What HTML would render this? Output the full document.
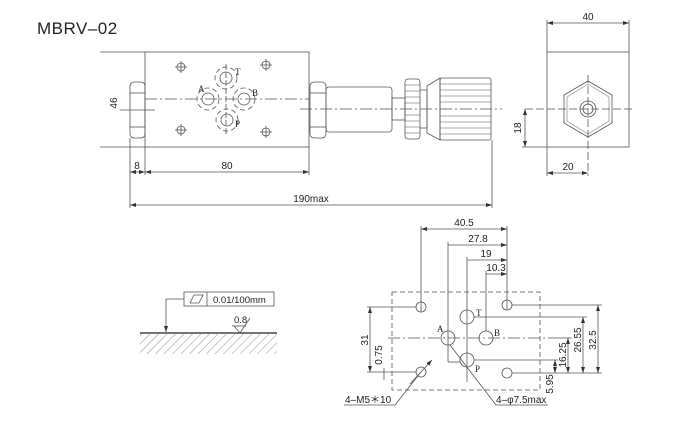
<!DOCTYPE html>
<html><head><meta charset="utf-8"><style>
html,body{margin:0;padding:0;background:#fff;}
svg{display:block;}
text{font-family:"Liberation Sans",sans-serif;fill:#222;}
</style></head><body>
<svg width="680" height="426" viewBox="0 0 680 426" xmlns="http://www.w3.org/2000/svg">
<defs>
<marker id="ar" markerWidth="6" markerHeight="4" refX="6" refY="2" orient="auto-start-reverse" markerUnits="userSpaceOnUse"><path d="M0,0 L6,2 L0,4z" fill="#333"/></marker>
<pattern id="hatch" width="6" height="6" patternUnits="userSpaceOnUse" patternTransform="rotate(45)"><line x1="0" y1="0" x2="0" y2="6" stroke="#666" stroke-width="0.7"/></pattern>
</defs>
<text x="37" y="34" font-size="17" letter-spacing="0.5">MBRV–02</text>
<g stroke="#555" stroke-width="0.8" fill="none">
<rect x="145" y="52" width="164" height="95"/>
<rect x="130" y="82" width="15" height="56" rx="4"/>
<line x1="130" y1="93" x2="145" y2="93"/><line x1="130" y1="127" x2="145" y2="127"/>
<line x1="120" y1="110" x2="155" y2="110"/>
<rect x="310" y="82" width="16" height="56" rx="4"/>
<line x1="310" y1="93" x2="326" y2="93"/><line x1="310" y1="127" x2="326" y2="127"/>
<rect x="326" y="87" width="66" height="45" rx="3"/>
<rect x="392" y="98" width="13" height="22"/>
<rect x="405" y="79" width="15" height="60" rx="3"/>
<g stroke-width="0.5"><line x1="405" y1="85" x2="420" y2="85"/><line x1="405" y1="91" x2="420" y2="91"/><line x1="405" y1="97" x2="420" y2="97"/><line x1="405" y1="103" x2="420" y2="103"/><line x1="405" y1="115" x2="420" y2="115"/><line x1="405" y1="121" x2="420" y2="121"/><line x1="405" y1="127" x2="420" y2="127"/><line x1="405" y1="133" x2="420" y2="133"/></g>
<path d="M420,90 L427,90 L427,128 L420,128"/>
<path d="M427,86 L440,78 L440,140 L427,133z"/>
<rect x="440" y="78" width="51" height="62" rx="2"/>
<g stroke-width="0.5"><line x1="440" y1="84" x2="491" y2="84"/><line x1="440" y1="90" x2="491" y2="90"/><line x1="440" y1="96" x2="491" y2="96"/><line x1="440" y1="102" x2="491" y2="102"/><line x1="440" y1="116" x2="491" y2="116"/><line x1="440" y1="122" x2="491" y2="122"/><line x1="440" y1="128" x2="491" y2="128"/><line x1="440" y1="134" x2="491" y2="134"/></g>
<line x1="300" y1="109" x2="502" y2="109" stroke-dasharray="12,3,2,3"/>
<line x1="145" y1="99" x2="309" y2="99" stroke-dasharray="12,3,2,3"/>
<g>
<circle cx="226" cy="78" r="6"/><circle cx="226" cy="78" r="11" stroke-dasharray="5,3"/>
<circle cx="208" cy="99" r="6"/><circle cx="208" cy="99" r="11" stroke-dasharray="5,3"/>
<circle cx="244" cy="99" r="6"/><circle cx="244" cy="99" r="11" stroke-dasharray="5,3"/>
<circle cx="227" cy="120" r="6"/><circle cx="227" cy="120" r="11" stroke-dasharray="5,3"/>
<line x1="226" y1="64" x2="226" y2="134" stroke-dasharray="6,2"/>
</g>
<g>
<circle cx="181" cy="67" r="4"/><path d="M175,67h12M181,61v12"/>
<circle cx="266" cy="65" r="4"/><path d="M260,65h12M266,59v12"/>
<circle cx="181" cy="130" r="4"/><path d="M175,130h12M181,124v12"/>
<circle cx="266" cy="132" r="4"/><path d="M260,132h12M266,126v12"/>
</g>
<line x1="100" y1="52" x2="145" y2="52"/><line x1="100" y1="147" x2="145" y2="147"/>
<line x1="130" y1="138" x2="130" y2="208"/><line x1="145" y1="147" x2="145" y2="175"/><line x1="309" y1="147" x2="309" y2="175"/>
<line x1="492" y1="140" x2="492" y2="208"/>
<line x1="130" y1="172" x2="145" y2="172" marker-start="url(#ar)" marker-end="url(#ar)"/>
<line x1="145" y1="172" x2="309" y2="172" marker-start="url(#ar)" marker-end="url(#ar)"/>
<line x1="130" y1="205" x2="492" y2="205" marker-start="url(#ar)" marker-end="url(#ar)"/>
<rect x="547" y="52" width="82" height="95"/>
<line x1="547" y1="20" x2="547" y2="52"/><line x1="629" y1="20" x2="629" y2="52"/>
<line x1="547" y1="23" x2="629" y2="23" marker-start="url(#ar)" marker-end="url(#ar)"/>
<polygon points="588,81 612,95 612,123 588,137 564,123 564,95"/>
<polygon points="588,84 609,97 609,121 588,134 567,121 567,97" stroke-width="0.5"/>
<circle cx="588" cy="109" r="8"/><circle cx="588" cy="109" r="5"/>
<line x1="525" y1="109" x2="633" y2="109" stroke-dasharray="8,3"/>
<line x1="588" y1="75" x2="588" y2="176" stroke-dasharray="8,3"/>
<line x1="522" y1="147" x2="547" y2="147"/>
<line x1="525" y1="109" x2="525" y2="147" marker-start="url(#ar)" marker-end="url(#ar)"/>
<line x1="547" y1="147" x2="547" y2="176"/>
<line x1="547" y1="173" x2="588" y2="173" marker-start="url(#ar)" marker-end="url(#ar)"/>
<rect x="392" y="292" width="148" height="98" stroke-dasharray="5,3"/>
<line x1="388" y1="338" x2="548" y2="338" stroke-dasharray="12,3,2,3"/>
<line x1="467" y1="296" x2="467" y2="382"/>
<circle cx="421" cy="307" r="5"/><circle cx="507" cy="305" r="5"/>
<circle cx="421" cy="372" r="5"/><circle cx="507" cy="373" r="5"/>
<circle cx="467" cy="317" r="7"/><circle cx="448" cy="338" r="7"/>
<circle cx="486" cy="338" r="7"/><circle cx="467" cy="360" r="7"/>
<line x1="421" y1="226" x2="421" y2="312"/><line x1="507" y1="226" x2="507" y2="310"/>
<line x1="421" y1="229" x2="507" y2="229" marker-start="url(#ar)" marker-end="url(#ar)"/>
<line x1="448" y1="242" x2="448" y2="362"/>
<line x1="448" y1="245" x2="507" y2="245" marker-end="url(#ar)"/>
<line x1="467" y1="257" x2="467" y2="296"/>
<line x1="467" y1="260" x2="507" y2="260" marker-end="url(#ar)"/>
<line x1="486" y1="271" x2="486" y2="331"/>
<line x1="486" y1="274" x2="507" y2="274" marker-end="url(#ar)"/>
<line x1="448" y1="362" x2="460" y2="362"/>
<line x1="512" y1="305" x2="602" y2="305"/>
<line x1="474" y1="317" x2="587" y2="317"/>
<line x1="548" y1="338" x2="572" y2="338"/>
<line x1="474" y1="360" x2="558" y2="360"/>
<line x1="512" y1="373" x2="602" y2="373"/>
<line x1="598" y1="305" x2="598" y2="373" marker-start="url(#ar)" marker-end="url(#ar)"/>
<line x1="583" y1="317" x2="583" y2="373" marker-start="url(#ar)" marker-end="url(#ar)"/>
<line x1="568" y1="338" x2="568" y2="373" marker-start="url(#ar)" marker-end="url(#ar)"/>
<line x1="555" y1="360" x2="555" y2="373" marker-start="url(#ar)" marker-end="url(#ar)"/>
<line x1="367" y1="307" x2="416" y2="307"/><line x1="367" y1="372" x2="416" y2="372"/>
<line x1="370" y1="307" x2="370" y2="372" marker-start="url(#ar)" marker-end="url(#ar)"/>
<line x1="384" y1="368" x2="384" y2="380"/>
<polyline points="344,405 395,405 421,372"/>
<line x1="410" y1="384" x2="432" y2="360" marker-end="url(#ar)"/>
<polyline points="548,405 496,405 450,345"/>
<rect x="184" y="292" width="90" height="14"/>
<line x1="207" y1="292" x2="207" y2="306"/>
<polygon points="190,303 194,295 203,295 199,303"/>
<polyline points="184,299 166,299 166,332" marker-end="url(#ar)"/>
<line x1="140" y1="333" x2="277" y2="333" stroke="#222" stroke-width="1.2"/>
<polyline points="234,326 240,333 250,318"/>
<line x1="232" y1="326" x2="246" y2="326"/>
</g>
<rect x="140" y="334" width="137" height="20" fill="url(#hatch)"/>
<g font-size="10">
<text x="110" y="104" transform="rotate(-90 113 100)" text-anchor="middle">46</text>
<text x="137" y="169" text-anchor="middle">8</text>
<text x="227" y="169" text-anchor="middle">80</text>
<text x="311" y="202" text-anchor="middle">190max</text>
<text x="588" y="20" text-anchor="middle">40</text>
<text x="568" y="170" text-anchor="middle">20</text>
<text x="521" y="128" text-anchor="middle" transform="rotate(-90 521 128)">18</text>
<text x="464" y="226" text-anchor="middle">40.5</text>
<text x="478" y="242" text-anchor="middle">27.8</text>
<text x="486" y="257" text-anchor="middle">19</text>
<text x="496" y="271" text-anchor="middle">10.3</text>
<text x="596" y="340" text-anchor="middle" transform="rotate(-90 596 340)">32.5</text>
<text x="581" y="340" text-anchor="middle" transform="rotate(-90 581 340)">26.55</text>
<text x="566" y="355" text-anchor="middle" transform="rotate(-90 566 355)">16.25</text>
<text x="553" y="384" text-anchor="middle" transform="rotate(-90 553 384)">5.95</text>
<text x="368" y="340" text-anchor="middle" transform="rotate(-90 368 340)">31</text>
<text x="382" y="355" text-anchor="middle" transform="rotate(-90 382 355)">0.75</text>
<text x="345" y="403">4–M5＊10</text>
<text x="496" y="403">4–φ7.5max</text>
<text x="213" y="303" font-size="9.5">0.01/100mm</text>
<text x="234" y="323" font-size="9.5">0.8</text>
</g>
<g font-size="9">
<text x="235" y="75" style="font-family:'Liberation Serif',serif">T</text>
<text x="198" y="92" style="font-family:'Liberation Serif',serif">A</text>
<text x="252" y="96" style="font-family:'Liberation Serif',serif">B</text>
<text x="235" y="127" style="font-family:'Liberation Serif',serif">P</text>
<text x="476" y="316" style="font-family:'Liberation Serif',serif">T</text>
<text x="437" y="332" style="font-family:'Liberation Serif',serif">A</text>
<text x="494" y="336" style="font-family:'Liberation Serif',serif">B</text>
<text x="475" y="372" style="font-family:'Liberation Serif',serif">P</text>
</g>
</svg>
</body></html>
